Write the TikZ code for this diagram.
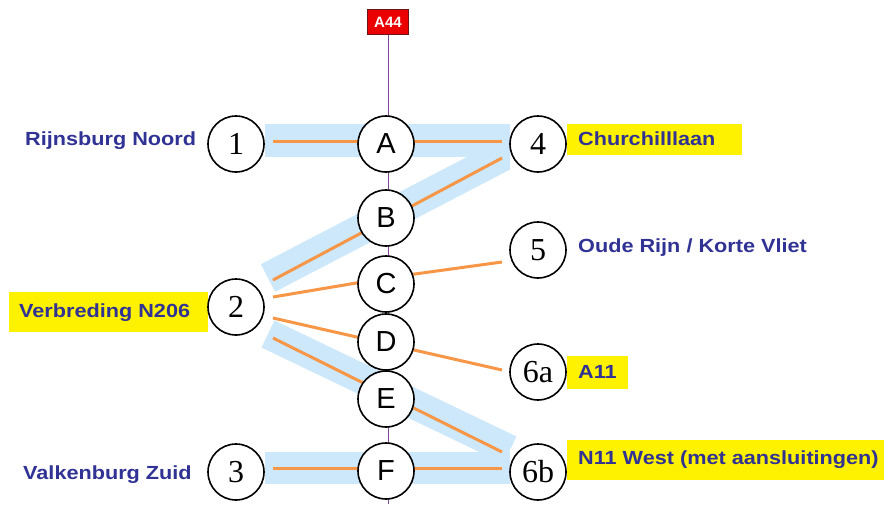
\documentclass[tikz,border=0pt]{standalone}
\usepackage{fontspec}
\setmainfont{Liberation Sans}
\newfontfamily\numfont{Liberation Serif}
\newfontfamily\placefont[FakeStretch=1.14]{Liberation Sans Bold}
\usetikzlibrary{calc}
\definecolor{bandblue}{RGB}{204,232,250}
\definecolor{roadorange}{RGB}{247,150,70}
\definecolor{placeblue}{RGB}{48,50,148}
\definecolor{axispurple}{RGB}{130,70,150}
\definecolor{signred}{RGB}{235,0,0}
\definecolor{signedge}{RGB}{110,20,20}
\begin{document}
\begin{tikzpicture}[x=1pt,y=-1pt,
  junction/.style={circle, draw=black, line width=1.6pt, fill=white,
    minimum size=56pt, inner sep=0pt, font=\fontsize{29}{29}\selectfont},
  numjunction/.style={junction, font=\numfont\fontsize{32}{32}\selectfont},
  road/.style={draw=roadorange, line width=3pt},
  band/.style={draw=bandblue, line width=31pt},
  place/.style={anchor=base west, inner sep=0pt, text=placeblue,
    font=\placefont\fontsize{19}{19}\selectfont},
  marker/.style={fill=yellow},
  sign/.style={fill=signred, draw=signedge, line width=0.8pt, text=white,
    minimum width=41pt, minimum height=25pt, inner sep=0pt,
    font=\bfseries\fontsize{15}{15}\selectfont}
]
\useasboundingbox (0,0) rectangle (884,504);

% highlighted label backgrounds
\fill[marker] (567,124) rectangle (742,155);
\fill[marker] (9,292) rectangle (208,332);
\fill[marker] (567,356) rectangle (628,389);
\fill[marker] (567,440) rectangle (884,480);

% light blue corridor bands
\fill[bandblue] (265,124) rectangle (510,157);
\begin{scope}
  \clip (0,0) rectangle (510,504);
  \draw[band] (268,278) -- (512,151);
\end{scope}
\draw[band, line width=30pt] (268,334) -- (510,450);
\fill[bandblue] (265,452) rectangle (510,484);

% junction positions
\coordinate (pA) at (386,144);
\coordinate (pB) at (386,218);
\coordinate (pC) at (386,284);
\coordinate (pD) at (386,342);
\coordinate (pE) at (386,399);
\coordinate (pF) at (386,471);
\coordinate (p1) at (236,144);
\coordinate (p2) at (236,307);
\coordinate (p3) at (236,472);
\coordinate (p4) at (538,144);
\coordinate (p5) at (538,250);
\coordinate (p6a) at (538,372);
\coordinate (p6b) at (538,472);

% motorway sign and main axis
\node[sign] (a44) at (388,22) {A44};
\coordinate (axisend) at (388,504);
\draw[axispurple, line width=1pt] (a44.south) -- (axisend);

% connecting roads
\draw[road] ($(p1)+(37,-3)$) -- ($(p4)+(-36,-3)$);
\draw[road] ($(p4)+(-36,14)$) -- ($(p2)+(37,-27)$);
\draw[road] ($(p2)+(37,-10)$) -- ($(pC)+(0,-6)$) -- ($(p5)+(-36,12)$);
\draw[road] ($(p2)+(37,11)$) -- ($(p6a)+(-36,-2)$);
\draw[road] ($(p2)+(37,31)$) -- ($(p6b)+(-36,-20)$);
\draw[road] ($(p3)+(37,-4)$) -- ($(p6b)+(-36,-4)$);

% junctions
\node[junction] (A) at (pA) {A};
\node[junction] (B) at (pB) {B};
\node[junction] (C) at (pC) {C};
\node[junction] (D) at (pD) {D};
\node[junction] (E) at (pE) {E};
\node[junction] (F) at (pF) {F};
\node[numjunction] (n1) at (p1) {1};
\node[numjunction] (n2) at (p2) {2};
\node[numjunction] (n3) at (p3) {3};
\node[numjunction] (n4) at (p4) {4};
\node[numjunction] (n5) at (p5) {5};
\node[numjunction] (n6a) at (p6a) {6a};
\node[numjunction] (n6b) at (p6b) {6b};

% place names
\node[place] (l1) at (25,145) {Rijnsburg Noord};
\node[place] (l2) at (19,317) {Verbreding N206};
\node[place] (l3) at (23,479) {Valkenburg Zuid};
\node[place] (l4) at (578,145) {Churchilllaan};
\node[place] (l5) at (578,252) {Oude Rijn / Korte Vliet};
\node[place] (l6a) at (578,378) {A11};
\node[place] (l6b) at (578,464) {N11 West (met aansluitingen)};
\end{tikzpicture}
\end{document}
